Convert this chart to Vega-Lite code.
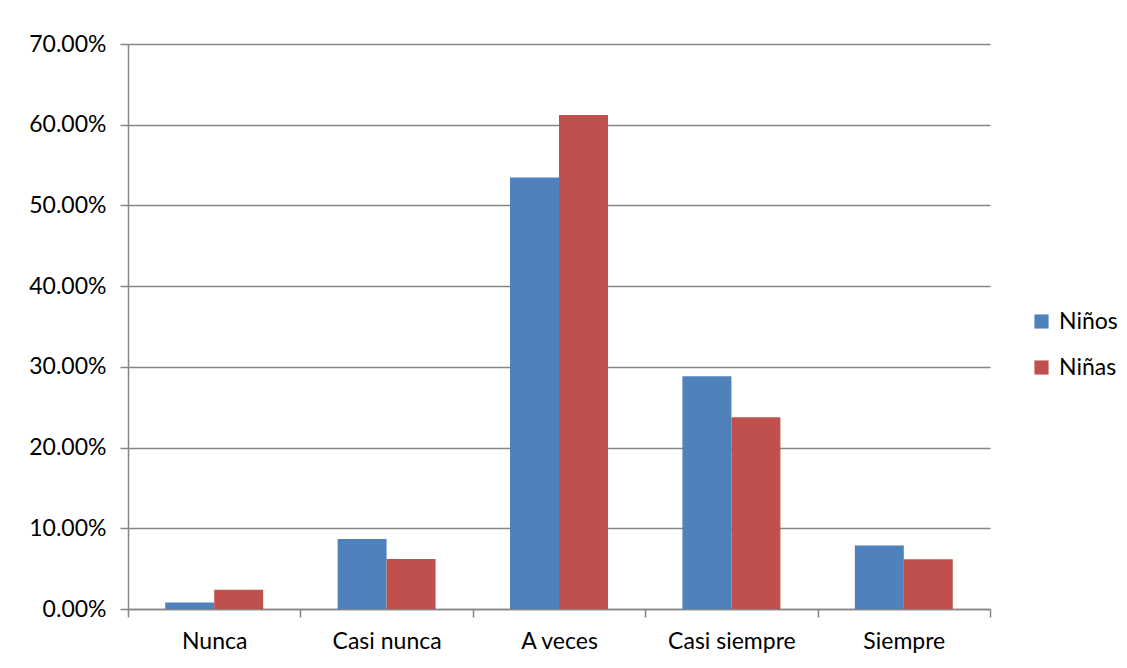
{
  "$schema": "https://vega.github.io/schema/vega-lite/v6.json",
  "autosize": {"type": "none"},
  "padding": {"left": 128, "top": 44, "right": 137, "bottom": 59},
  "width": 862,
  "height": 565,
  "background": "white",
  "config": {
    "view": {"stroke": null},
    "font": "Lato",
    "axis": {"labelFont": "Lato", "labelColor": "#000000", "domainColor": "#868686", "tickColor": "#868686", "gridColor": "#868686"},
    "legend": {"labelFont": "Lato"}
  },
  "data": {
    "values": [
      {"cat": "Nunca", "grupo": "Niños", "valor": 0.0080},
      {"cat": "Nunca", "grupo": "Niñas", "valor": 0.0240},
      {"cat": "Casi nunca", "grupo": "Niños", "valor": 0.0867},
      {"cat": "Casi nunca", "grupo": "Niñas", "valor": 0.0620},
      {"cat": "A veces", "grupo": "Niños", "valor": 0.5346},
      {"cat": "A veces", "grupo": "Niñas", "valor": 0.6120},
      {"cat": "Casi siempre", "grupo": "Niños", "valor": 0.2884},
      {"cat": "Casi siempre", "grupo": "Niñas", "valor": 0.2376},
      {"cat": "Siempre", "grupo": "Niños", "valor": 0.0786},
      {"cat": "Siempre", "grupo": "Niñas", "valor": 0.0616}
    ]
  },
  "mark": {"type": "bar"},
  "encoding": {
    "x": {
      "field": "cat", "type": "nominal",
      "sort": ["Nunca", "Casi nunca", "A veces", "Casi siempre", "Siempre"],
      "scale": {"paddingInner": 0, "paddingOuter": 0},
      "axis": {"title": null, "labelAngle": 0, "labelFontSize": 23, "labelPadding": 13, "tickBand": "extent", "tickSize": 8, "domainWidth": 1.5, "tickWidth": 1.5, "grid": false}
    },
    "xOffset": {
      "field": "grupo", "type": "nominal",
      "sort": ["Niños", "Niñas"],
      "scale": {"paddingInner": 0, "paddingOuter": 0.76}
    },
    "y": {
      "field": "valor", "type": "quantitative",
      "scale": {"domain": [0, 0.7], "nice": false},
      "axis": {"title": null, "format": ".2%", "values": [0, 0.1, 0.2, 0.3, 0.4, 0.5, 0.6, 0.7], "labelFontSize": 23, "labelPadding": 14, "tickSize": 8, "domainWidth": 1.5, "tickWidth": 1.5, "gridWidth": 1.5, "grid": true}
    },
    "color": {
      "field": "grupo", "type": "nominal",
      "sort": ["Niños", "Niñas"],
      "scale": {"domain": ["Niños", "Niñas"], "range": ["#4F81BD", "#C0504D"]},
      "legend": {"title": null, "orient": "none", "legendX": 902, "legendY": 266, "symbolType": "square", "symbolSize": 200, "symbolStrokeWidth": 0, "labelFontSize": 23, "rowPadding": 22, "labelOffset": 6}
    }
  }
}
